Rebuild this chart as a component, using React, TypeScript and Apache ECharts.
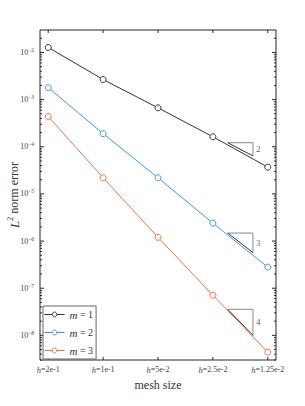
import React, { useEffect, useRef } from 'react';
import * as echarts from 'echarts';

const categories = ['2e-1', '1e-1', '5e-2', '2.5e-2', '1.25e-2'];
const seriesNames = ['m = 1', 'm = 2', 'm = 3'];
const m1 = [1.28e-2, 2.67e-3, 6.7e-4, 1.63e-4, 3.7e-5];
const m2 = [1.8e-3, 1.9e-4, 2.2e-5, 2.4e-6, 2.8e-7];
const m3 = [4.4e-4, 2.2e-5, 1.2e-6, 7.1e-8, 4.4e-9];
const colors = ['#333333', '#3b98de', '#ef7048'];
const yMajor = [1e-8, 1e-7, 1e-6, 1e-5, 1e-4, 1e-3, 1e-2];
const slopeLabels = ['2', '3', '4'];
const triX = [3.27, 3.73];
const triTop = [1.22e-4, 1.48e-6, 3.57e-8];
const triBottom = [6.4e-5, 5.7e-7, 1.0e-8];

const yMin = 3e-9;
const yMax = 3e-2;
const xMin = -0.15;
const xMax = 4.15;
const xIdx = categories.map((_, i) => i);

const minorTicks: number[] = [];
for (let k = -9; k <= -2; k++) {
  for (let j = 2; j <= 9; j++) {
    const v = j * Math.pow(10, k);
    if (v > yMin && v < yMax) minorTicks.push(v);
  }
}

const FONT = '"Liberation Serif", "DejaVu Serif", serif';
const AX = '#262626';
const LBL = '#444444';

export default function App() {
  const ref = useRef<HTMLDivElement>(null);
  useEffect(() => {
    if (!ref.current) return;
    const chart = echarts.init(ref.current, null, { renderer: 'svg' });
    const yLabelAxis = {
      type: 'log',
      logBase: 10,
      min: yMin,
      max: yMax,
      position: 'left',
      splitLine: { show: false },
      axisLine: { show: false },
      axisTick: { show: false },
      axisLabel: {
        show: true,
        customValues: yMajor,
        margin: 6,
        fontFamily: FONT,
        color: LBL,
        formatter: (v: number) => `{b|10}{s|−${Math.round(-Math.log10(v))}}`,
        rich: {
          b: { fontSize: 8, fontFamily: FONT, color: LBL },
          s: { fontSize: 5.5, fontFamily: FONT, color: LBL, padding: [0, 0, 5, 0] },
        },
      },
    };

    const mainSeries = [m1, m2, m3].map((d, si) => ({
      name: seriesNames[si],
      type: 'line',
      data: d.map((v, i) => [xIdx[i], v]),
      symbol: 'circle',
      symbolSize: 6,
      lineStyle: { color: colors[si], width: 1 },
      itemStyle: { color: '#ffffff', borderColor: colors[si], borderWidth: 1 },
      z: 3,
    }));

    const triLegSeries = triTop.map((top, i) => ({
      type: 'line',
      silent: true,
      symbol: 'none',
      data: [
        [triX[0], top],
        [triX[1], top],
        [triX[1], triBottom[i]],
      ],
      lineStyle: { color: '#8a8a8a', width: 1 },
      z: 2,
    }));
    const triHypSeries = triTop.map((top, i) => ({
      type: 'line',
      silent: true,
      symbol: 'none',
      data: [
        [triX[0], top],
        [triX[1], triBottom[i]],
      ],
      lineStyle: { color: '#333333', width: 1 },
      z: 2,
    }));

    const triLabelSeries = {
      type: 'scatter',
      silent: true,
      symbolSize: 0,
      data: triTop.map((top, i) => ({
        value: [triX[1], Math.sqrt(top * triBottom[i])],
        label: {
          show: true,
          position: 'right',
          distance: 3,
          formatter: slopeLabels[i],
          fontFamily: FONT,
          fontSize: 9,
          color: '#333',
        },
      })),
    };

    const yTickData = [
      ...yMajor.map((v) => [v, 4]),
      ...minorTicks.map((v) => [v, 2]),
    ];
    const yTickSeries = {
      type: 'custom',
      silent: true,
      clip: false,
      data: yTickData.map(([v, len]) => [xMin, v, len]),
      renderItem: (params: any, api: any) => {
        const v = api.value(1);
        const len = api.value(2);
        const l = api.coord([xMin, v]);
        const r = api.coord([xMax, v]);
        const style = { stroke: AX, lineWidth: 1, fill: null };
        return {
          type: 'group',
          children: [
            { type: 'line', shape: { x1: l[0], y1: l[1], x2: l[0] + len, y2: l[1] }, style },
            { type: 'line', shape: { x1: r[0] - len, y1: r[1], x2: r[0], y2: r[1] }, style },
          ],
        };
      },
      z: 1,
    };
    const xTickSeries = {
      type: 'custom',
      silent: true,
      clip: false,
      data: xIdx.map((x) => [x, yMin]),
      renderItem: (params: any, api: any) => {
        const x = api.value(0);
        const b = api.coord([x, yMin]);
        const t = api.coord([x, yMax]);
        const style = { stroke: AX, lineWidth: 1, fill: null };
        return {
          type: 'group',
          children: [
            { type: 'line', shape: { x1: b[0], y1: b[1], x2: b[0], y2: b[1] - 3 }, style },
            { type: 'line', shape: { x1: t[0], y1: t[1], x2: t[0], y2: t[1] + 3 }, style },
          ],
        };
      },
      z: 1,
    };

    chart.setOption({
      animation: false,
      backgroundColor: '#ffffff',
      grid: {
        left: 40,
        right: 29,
        top: 30,
        bottom: 46,
        show: true,
        borderColor: AX,
        borderWidth: 1,
        backgroundColor: 'transparent',
        outerBoundsMode: 'none',
        containLabel: false,
      },
      graphic: [
        {
          type: 'text',
          x: 14,
          y: 195,
          rotation: Math.PI / 2,
          style: {
            text: '{i|L}{s|2}{n| norm error}',
            align: 'center',
            verticalAlign: 'middle',
            fontFamily: FONT,
            rich: {
              i: { fontStyle: 'italic', fontSize: 13, fontFamily: FONT, fill: '#333' },
              s: { fontSize: 8, fontFamily: FONT, fill: '#333', padding: [0, 0, 7, 0] },
              n: { fontSize: 12, fontFamily: FONT, fill: '#333' },
            },
          },
        },
      ],
      legend: {
        data: seriesNames,
        orient: 'vertical',
        left: 43,
        top: 306,
        itemWidth: 20,
        itemHeight: 6,
        itemGap: 7,
        padding: [3, 3, 3, 1],
        borderColor: '#666666',
        borderWidth: 1,
        backgroundColor: '#ffffff',
        itemStyle: { borderWidth: 1 },
        lineStyle: { width: 1 },
        textStyle: {
          fontFamily: FONT,
          fontSize: 10,
          color: '#333',
          rich: {
            i: { fontStyle: 'italic', fontFamily: FONT, fontSize: 11, color: '#333' },
            n: { fontFamily: FONT, fontSize: 10, color: '#333' },
          },
        },
        formatter: (name: string) => `{i|m}{n| = ${name.slice(-1)}}`,
      },
      xAxis: {
        type: 'value',
        min: xMin,
        max: xMax,
        splitLine: { show: false },
        axisLine: { show: false },
        axisTick: { show: false },
        name: 'mesh size',
        nameLocation: 'middle',
        nameGap: 19,
        nameTextStyle: { fontFamily: FONT, fontSize: 12, color: '#333' },
        axisLabel: {
          show: true,
          customValues: xIdx,
          margin: 5,
          formatter: (v: number) => `{i|h}{n|=${categories[Math.round(v)]}}`,
          rich: {
            i: { fontStyle: 'italic', fontSize: 8.5, fontFamily: FONT, color: LBL },
            n: { fontSize: 8, fontFamily: FONT, color: LBL },
          },
        },
      },
      yAxis: yLabelAxis,
      series: [yTickSeries, xTickSeries, ...triLegSeries, ...triHypSeries, triLabelSeries, ...mainSeries],
    });
    return () => chart.dispose();
  }, []);
  return <div ref={ref} style={{ position: 'fixed', left: 0, top: 0, width: 305, height: 406 }} />;
}
